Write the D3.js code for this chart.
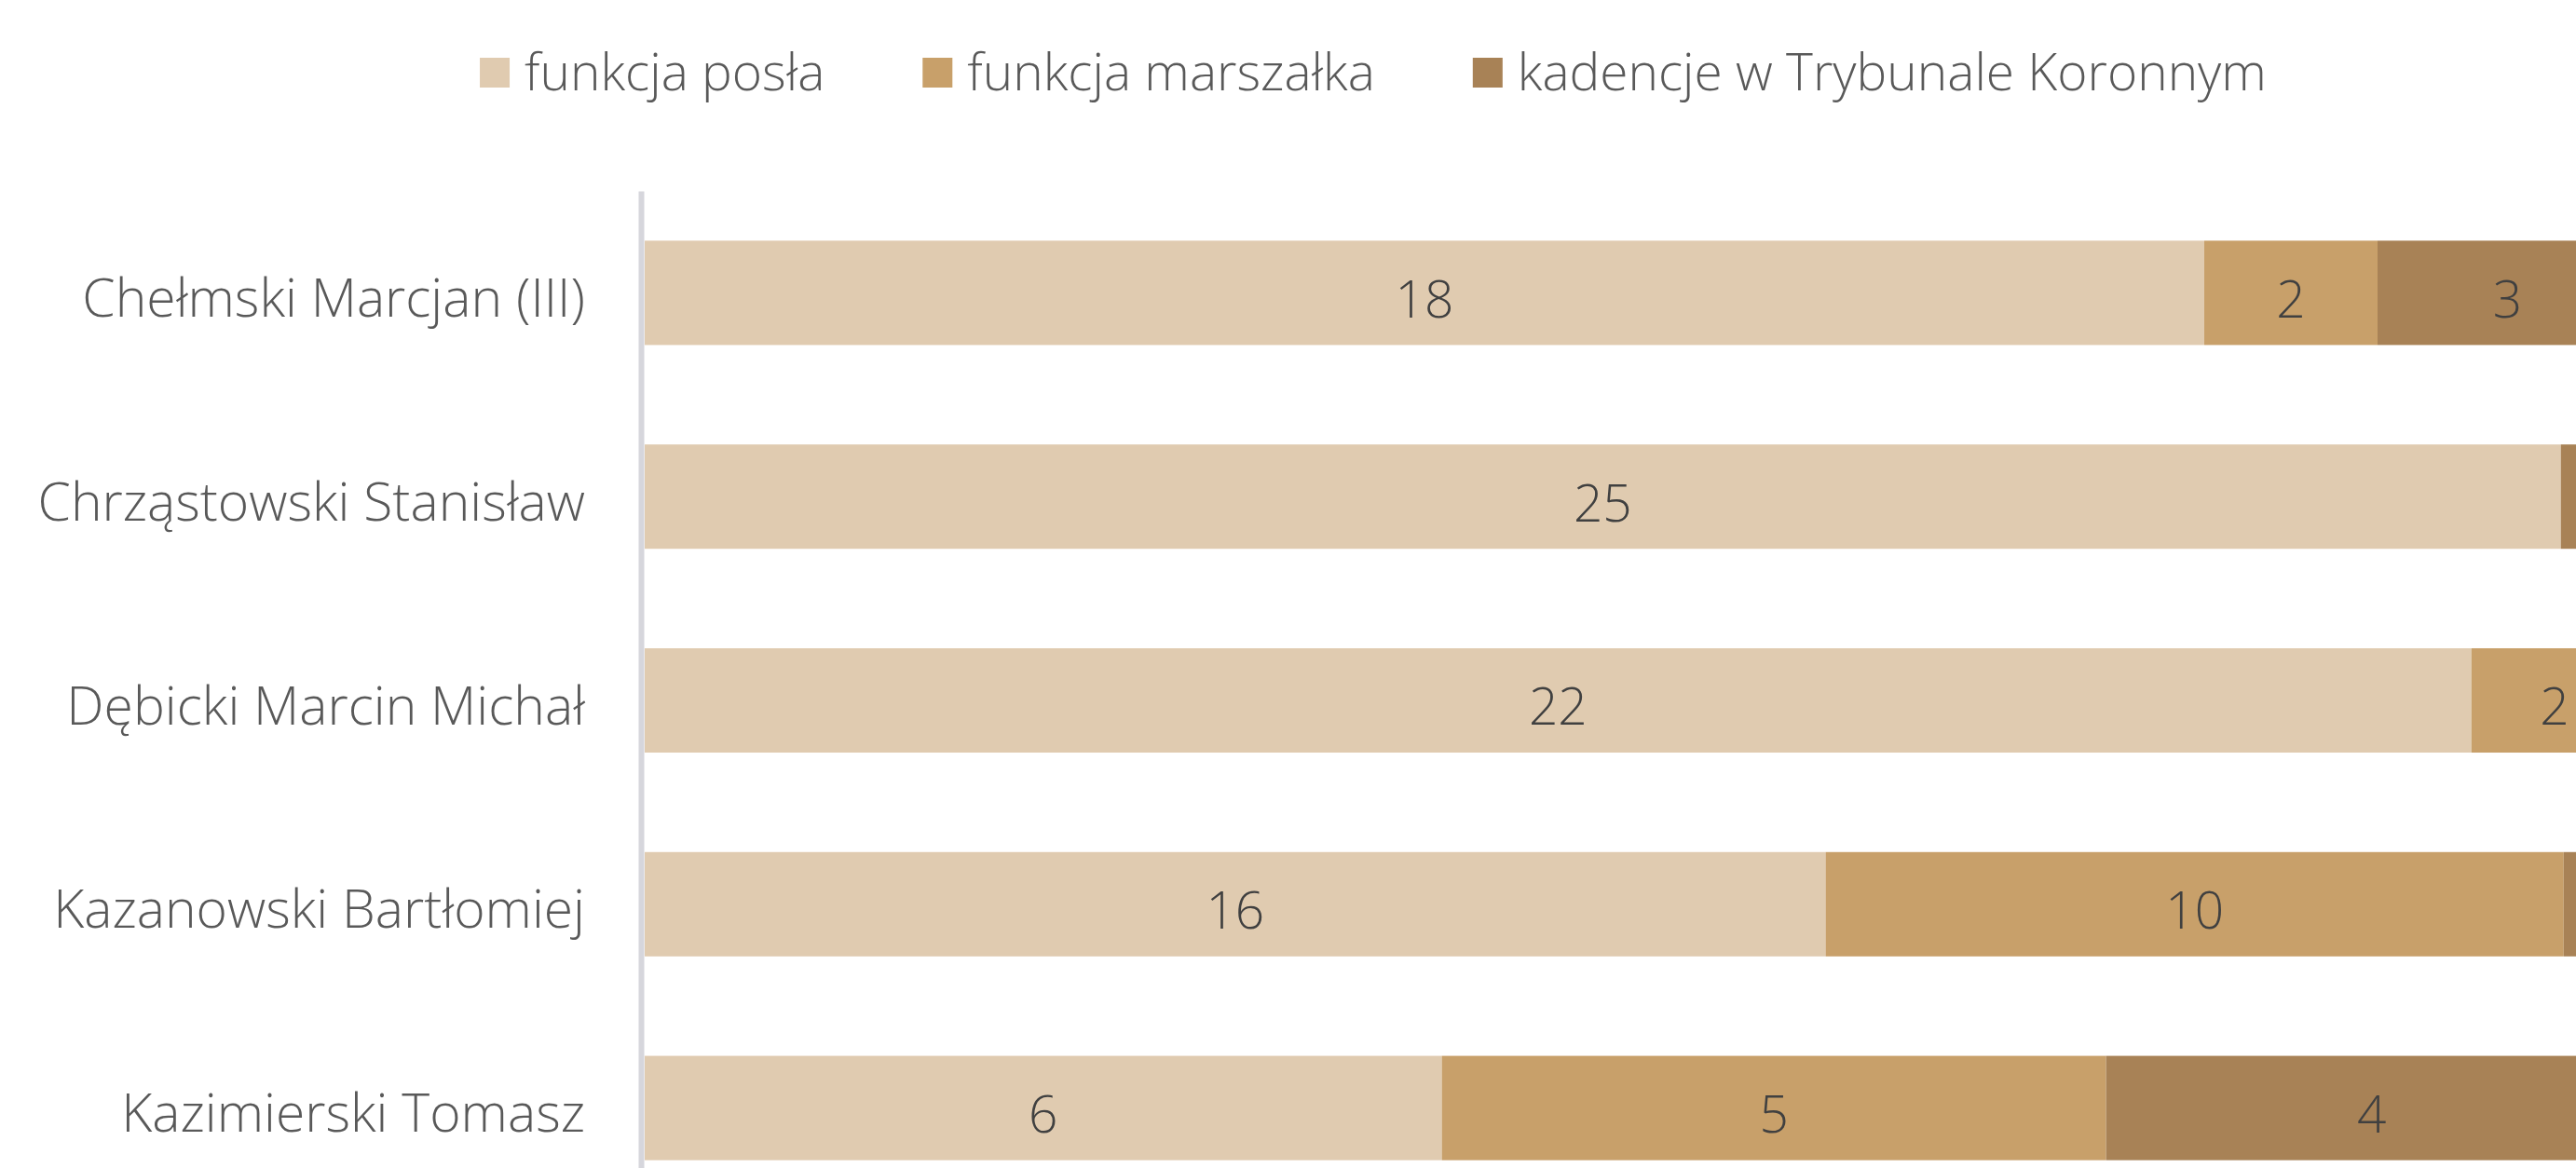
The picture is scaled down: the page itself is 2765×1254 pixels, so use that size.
<!DOCTYPE html>
<html>
<head>
<meta charset="utf-8">
<script src="https://cdn.jsdelivr.net/npm/d3@7"></script>
<style>
    body { margin: 0; background: #ffffff; }
    text { font-family: "Open Sans", "DejaVu Sans", sans-serif; font-weight: 300; }
</style>
</head>
<body>
<div id="chart"></div>
<script>
// Data
var categories = ["Chełmski Marcjan (III)", "Chrząstowski Stanisław", "Dębicki Marcin Michał", "Kazanowski Bartłomiej", "Kazimierski Tomasz"];
var seriesNames = ["funkcja posła", "funkcja marszałka", "kadencje w Trybunale Koronnym"];
var poselValues = [18, 25, 22, 16, 6];
var marszalekValues = [2, 0, 2, 10, 5];
var trybunalValues = [3, 1, 0, 1, 4];
var seriesColors = ["#e0cbb0", "#c8a06a", "#a88256"];

window.onload = function () {

    var width = 2765;
    var height = 1254;

    //Plot area (the original chart is cropped on the right and at the bottom).
    var plotLeft = 692;
    var plotWidth = 2139;
    var plotTop = 205;
    var plotBottom = 1299;

    //Build rows for the stack layout.
    var rows = new Array();
    for (var i = 0; i < categories.length; i++) {
        var row = { name: categories[i] };
        row[seriesNames[0]] = poselValues[i];
        row[seriesNames[1]] = marszalekValues[i];
        row[seriesNames[2]] = trybunalValues[i];
        rows.push(row);
    }

    //100% stacked layers.
    var layers = d3.stack().keys(seriesNames).offset(d3.stackOffsetExpand)(rows);

    var x = d3.scaleLinear().domain([0, 1]).range([plotLeft, plotLeft + plotWidth]);
    var y = d3.scaleBand().domain(categories).range([plotTop, plotBottom])
            .paddingInner(0.488).paddingOuter(0.244);

    var color = d3.scaleOrdinal().domain(seriesNames).range(seriesColors);

    var svg = d3.select("#chart").append("svg")
            .attr("width", width).attr("height", height)
            .style("display", "block");

    //Draw the bars.
    var layer = svg.selectAll("g.layer").data(layers).enter()
            .append("g").attr("class", "layer")
            .attr("fill", function (d) { return color(d.key); });

    layer.selectAll("rect").data(function (d) { return d; }).enter()
            .append("rect")
            .attr("x", function (d) { return x(d[0]); })
            .attr("y", function (d) { return y(d.data.name); })
            .attr("width", function (d) { return x(d[1]) - x(d[0]); })
            .attr("height", y.bandwidth());

    //Value labels in the middle of each segment (those past the cropped edge are not visible).
    layer.selectAll("text").data(function (d) {
        return d.map(function (p) { p.key = d.key; return p; }).filter(function (p) {
            return p.data[d.key] > 0 && x((p[0] + p[1]) / 2) < width - 20;
        });
    }).enter()
            .append("text")
            .attr("x", function (d) { return x((d[0] + d[1]) / 2); })
            .attr("y", function (d) { return y(d.data.name) + y.bandwidth() / 2; })
            .attr("dy", "0.48em")
            .attr("text-anchor", "middle")
            .attr("fill", "#404040")
            .style("font-size", "55px")
            .text(function (d) { return d.data[d.key]; });

    //Category axis.
    var axis = svg.append("g")
            .attr("transform", "translate(688,0)")
            .call(d3.axisLeft(y).tickSize(0).tickSizeOuter(0).tickPadding(60));

    axis.select(".domain").attr("stroke", "#d6d6dc").attr("stroke-width", 6);
    axis.selectAll("text")
            .attr("fill", "#595959")
            .attr("dy", "0.45em")
            .style("font-size", "57px")
            .style("font-weight", "300")
            .style("font-family", "\"Open Sans\", \"DejaVu Sans\", sans-serif");

    //Legend, centred over the original chart.
    var legend = svg.append("g");
    var item = legend.selectAll("g").data(seriesNames).enter().append("g");

    item.append("rect")
            .attr("y", 62).attr("width", 32).attr("height", 32)
            .attr("fill", function (d) { return color(d); });

    item.append("text")
            .attr("x", 48).attr("y", 97)
            .attr("fill", "#595959")
            .style("font-size", "55px")
            .text(function (d) { return d; });

    var pos = 0;
    item.each(function () {
        var w = d3.select(this).select("text").node().getComputedTextLength();
        d3.select(this).attr("transform", "translate(" + pos + ",0)");
        pos += 48 + w + 105;
    });
    var legendWidth = pos - 105;
    legend.attr("transform", "translate(" + (1474 - legendWidth / 2) + ",0)");
};
</script>
</body>
</html>
